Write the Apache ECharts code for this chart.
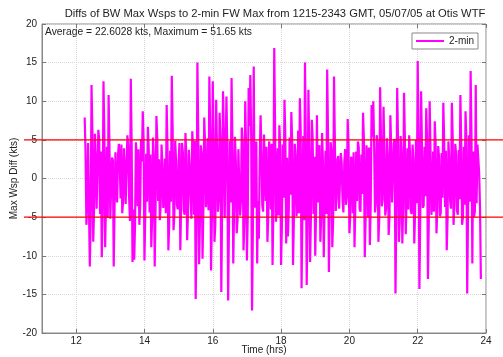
<!DOCTYPE html>
<html>
<head>
    <meta charset="utf-8">
    <title>Diffs of BW Max Wsps</title>
    <script src="https://cdn.jsdelivr.net/npm/echarts@6/dist/echarts.min.js"></script>
    <style>
        html, body { margin: 0; padding: 0; background: #fff; }
        #chart { width: 503px; height: 357px; }
    </style>
</head>
<body>
<div id="chart"></div>
<script>
    // first sample time (hrs) and sample spacing (hrs)
    var startHr = 12.25;
    var stepHr = 0.025;
    // 2-min diffs (kts): the spikes ...
    var diffs = [
        7.9, -6.0, 4.6, -11.4, 12.1, -8.2, 5.8, -3.9, 6.3, -4.6,
        -10.2, 12.6, -8.9, 4.1, 10.8, -5.2, 2.7, -11.4, 3.4, -3.1,
        4.5, -2.6, -4.5, 3.9, -3.3, 5.6, -2.4, 12.9, -10.8, -10.5,
        4.7, -3.6, -6.0, 5.1, 8.7, -10.6, 3.2, 6.7, -4.4, -8.9,
        5.3, -11.4, 8.1, -2.9, -5.4, 4.4, -3.8, 2.6, 9.5, -9.3,
        3.6, 13.3, -6.7, 4.9, -3.4, 2.2, -9.3, 4.6, -4.1, 5.9,
        -8.0, 3.7, -2.5, 6.1, -4.7, -15.6, 15.0, -11.1, 4.3, -10.4,
        7.9, -3.7, 5.2, 13.2, -11.9, 12.6, -8.2, 10.2, -4.3, 8.5,
        -14.7, 11.3, -5.1, 10.6, -15.8, 4.9, 13.0, -11.0, 5.4, -7.1,
        3.8, -4.8, 6.6, -9.3, 10.0, -10.6, 11.7, 13.4, -17.1, 14.5,
        4.2, -11.0, -7.8, 8.2, -3.5, 5.7, -2.9, -8.2, 4.8, -4.0,
        -11.2, 16.9, -5.6, 3.9, 6.9, -11.2, 4.4, 10.2, -8.4, -7.5,
        5.3, 8.6, -11.2, 4.5, -4.9, 6.2, 10.4, -14.2, 5.5, 15.0,
        -13.8, 11.5, -10.8, 7.6, -4.6, -10.0, 8.2, 4.0, -8.2, 5.9,
        -10.2, 3.6, 14.1, -12.1, 4.7, -8.9, 13.2, -4.2, 2.5, -3.9,
        3.3, -2.8, 1.9, -3.4, 7.7, -7.1, 2.8, -4.5, -8.9, 3.5,
        4.8, -3.9, 3.1, 8.5, -10.2, 4.3, -5.0, -8.6, 9.5, 10.0,
        -4.4, 5.6, -8.2, 11.8, -3.6, 9.3, -4.8, 5.2, -7.3, 8.2,
        -3.1, 4.6, -14.9, 11.7, -8.2, 5.5, -8.4, 11.1, -7.2, 3.9,
        5.6, -4.3, 4.4, -8.4, 5.0, 15.2, -14.3, 11.3, -3.8, 4.1,
        9.1, -13.0, 10.0, -4.7, 3.5, 7.4, -7.1, 4.2, -4.9, 3.3,
        9.8, -3.7, -9.3, 4.8, -2.9, 9.8, -6.0, 4.5, -4.2, 3.7,
        10.8, -6.0, 4.1, 8.7, -14.9, 5.6, 13.9, -11.0, -5.0, 12.1,
        4.4, 0.7, -13.0
    ];
    // ... and the in-between samples that make up the dense band
    var between = [
        3.4, -3.0, 4.8, -5.6, 6.2, -3.9, 2.6, -4.1, 5.0, 3.5,
        -4.6, 5.9, -2.5, -5.1, 4.2, -5.3, 2.4, -3.6, -1.9, 3.0,
        2.1, 4.4, -2.9, 1.6, -3.3, 4.0, -5.5, 4.6, -4.0, -5.8,
        2.6, 3.8, -3.5, 2.2, 4.9, -4.3, -3.0, 3.9, 3.1, -5.1,
        2.9, -3.8, 5.3, 2.5, -3.4, 1.9, -2.4, -4.5, 4.1, -5.9,
        -3.0, 6.3, -4.9, 2.3, -4.0, 4.6, -2.8, 3.4, -4.7, 2.9,
        -4.4, 1.7, -5.2, 3.7, 4.9, -6.4, 6.1, -5.5, 3.3, -3.9,
        4.5, -2.2, -4.1, 5.9, -5.0, 5.4, -6.0, 3.6, -2.6, 5.1,
        -3.4, 5.7, -5.3, 4.3, -6.0, -3.1, 5.0, -3.7, 2.4, -5.4,
        4.0, -2.8, 4.7, -5.6, 4.2, -4.6, 6.8, 5.5, -6.2, -3.8,
        4.8, -2.9, 2.5, 3.5, -4.3, 1.8, 4.1, -4.9, 3.0, 4.5,
        -4.0, 6.4, -3.2, -4.8, 3.8, -5.9, -2.5, 5.3, 2.7, -4.2,
        -2.1, 4.9, -5.1, 3.2, -3.6, -4.5, 6.0, -3.9, -5.4, 4.6,
        -6.3, 4.0, -4.7, 5.2, 2.8, -4.1, -3.1, 4.3, -5.0, 2.3,
        -3.0, -4.6, 5.7, -3.8, 3.6, -5.3, 4.9, -2.6, 2.9, -3.9,
        1.9, -4.4, 3.8, -2.4, 4.3, -4.9, 2.5, 3.4, -3.5, -2.9,
        4.0, -4.3, -2.0, 5.0, -5.2, 2.7, 4.0, -3.4, 5.4, 4.2,
        -3.3, 4.6, -5.1, 5.5, -2.7, 3.5, -3.9, 3.2, -4.8, 3.9,
        -3.2, 5.1, -4.2, 4.8, -5.4, 3.0, -3.6, 5.3, -2.8, -4.0,
        3.4, -4.6, 2.6, -4.1, -3.2, 5.8, -4.9, 4.1, -3.5, -2.3,
        5.1, -5.6, 3.7, -3.1, -4.3, 4.6, -3.7, 2.8, -4.5, -2.5,
        5.0, 3.6, -5.1, 2.4, -3.9, 5.4, -3.3, 3.1, -4.7, -2.7,
        4.4, -5.0, -3.4, 5.2, -4.0, -3.0, 5.6, 3.5, -4.2, -3.2,
        4.5, -3.8
    ];
    var xTicks = [12, 14, 16, 18, 20, 22, 24];
    var limitLines = [5, -5];

    var pts = [];
    for (var i = 0; i < diffs.length; i++) {
        pts.push([+(startHr + 2 * i * stepHr).toFixed(3), diffs[i]]);
        if (i < between.length) {
            pts.push([+(startHr + (2 * i + 1) * stepHr).toFixed(3), between[i]]);
        }
    }

    var font = 'Liberation Sans, Arial, sans-serif';
    var gridTop = 24, gridBottom = 24;
    var tickStyle = {show: true, inside: true, length: 4, lineStyle: {color: '#777'}};

    var series = [{
        name: '2-min',
        type: 'line',
        xAxisIndex: 0,
        yAxisIndex: 0,
        data: pts,
        showSymbol: false,
        symbol: 'none',
        lineStyle: {color: '#ff00ff', width: 2.2},
        itemStyle: {color: '#ff00ff'},
        animation: false
    }];
    limitLines.forEach(function (v) {
        series.push({
            type: 'line',
            xAxisIndex: 2,
            yAxisIndex: 2,
            data: [[0, v], [1, v]],
            showSymbol: false,
            symbol: 'none',
            lineStyle: {color: '#ff0000', width: 1.4},
            z: 5,
            silent: true,
            animation: false
        });
    });

    var myChart = echarts.init(document.getElementById('chart'));
    var option = {
        backgroundColor: '#fff',
        animation: false,
        textStyle: {fontFamily: font},
        title: [{
            text: 'Diffs of BW Max Wsps to 2-min FW Max from 1215-2343 GMT, 05/07/05 at Otis WTF',
            left: 270,
            textAlign: 'center',
            top: 3,
            textStyle: {fontSize: 11.2, fontWeight: 'normal', color: '#222', fontFamily: font}
        }, {
            text: 'Average = 22.6028 kts, Maximum = 51.65 kts',
            left: 40,
            top: 22,
            textStyle: {fontSize: 10.3, fontWeight: 'normal', color: '#222', fontFamily: font}
        }],
        legend: {
            data: [{name: '2-min', icon: 'rect'}],
            right: 25,
            top: 33,
            orient: 'vertical',
            backgroundColor: '#fff',
            borderColor: '#888',
            borderWidth: 1,
            padding: [3, 4, 3, 4],
            itemWidth: 28,
            itemHeight: 2,
            itemGap: 4,
            textStyle: {fontSize: 10, color: '#222', fontFamily: font}
        },
        grid: [{
            left: 42, right: 17, top: gridTop, bottom: gridBottom,
            outerBoundsMode: 'none',
            show: true, borderColor: '#888', borderWidth: 1, backgroundColor: 'transparent'
        }, {
            left: 24, right: 0, top: gridTop, bottom: gridBottom,
            outerBoundsMode: 'none'
        }],
        xAxis: [{
            type: 'value',
            gridIndex: 0,
            min: 11,
            max: 24,
            name: 'Time (hrs)',
            nameLocation: 'middle',
            nameGap: 12,
            nameMoveOverlap: false,
            nameTextStyle: {fontSize: 10, color: '#222', fontFamily: font, verticalAlign: 'top'},
            axisLine: {show: true, onZero: false, lineStyle: {color: '#888'}},
            axisTick: Object.assign({customValues: xTicks}, tickStyle),
            axisLabel: {customValues: xTicks, fontSize: 10, color: '#222', margin: 3, fontFamily: font},
            splitLine: {show: true, lineStyle: {color: '#d6d6d6', type: 'dotted'}}
        }, {
            type: 'value',
            gridIndex: 0,
            position: 'top',
            min: 11,
            max: 24,
            axisLine: {show: false, onZero: false},
            axisTick: Object.assign({customValues: xTicks}, tickStyle),
            axisLabel: {show: false},
            splitLine: {show: false}
        }, {
            type: 'value',
            gridIndex: 1,
            min: 0,
            max: 1,
            show: false
        }],
        yAxis: [{
            type: 'value',
            gridIndex: 0,
            min: -20,
            max: 20,
            interval: 5,
            name: 'Max Wsp Diff (kts)',
            nameLocation: 'middle',
            nameGap: 23,
            nameMoveOverlap: false,
            nameTextStyle: {fontSize: 10, color: '#222', fontFamily: font},
            axisLine: {show: true, onZero: false, lineStyle: {color: '#888'}},
            axisTick: tickStyle,
            axisLabel: {fontSize: 10, color: '#222', margin: 5, fontFamily: font},
            splitLine: {show: true, lineStyle: {color: '#d6d6d6', type: 'dotted'}}
        }, {
            type: 'value',
            gridIndex: 0,
            position: 'right',
            min: -20,
            max: 20,
            interval: 5,
            axisLine: {show: false, onZero: false},
            axisTick: tickStyle,
            axisLabel: {show: false},
            splitLine: {show: false}
        }, {
            type: 'value',
            gridIndex: 1,
            min: -20,
            max: 20,
            show: false
        }],
        series: series
    };
    myChart.setOption(option);
</script>
</body>
</html>
